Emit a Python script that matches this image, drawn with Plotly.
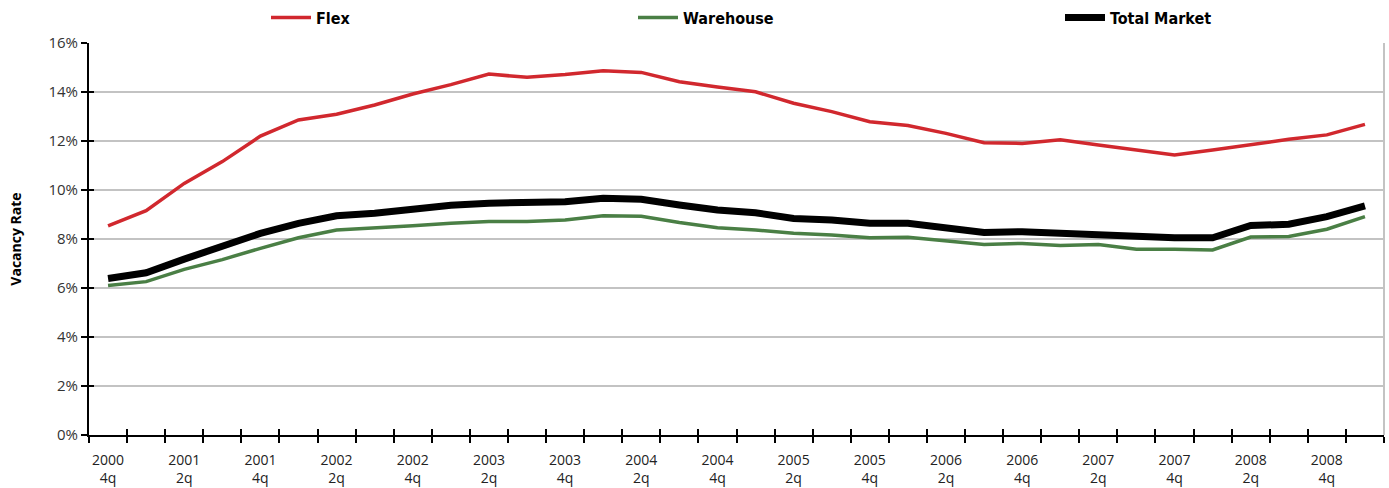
import plotly.graph_objects as go

quarters = [
    "2000 4q", "2001 1q", "2001 2q", "2001 3q", "2001 4q", "2002 1q", "2002 2q", "2002 3q",
    "2002 4q", "2003 1q", "2003 2q", "2003 3q", "2003 4q", "2004 1q", "2004 2q", "2004 3q",
    "2004 4q", "2005 1q", "2005 2q", "2005 3q", "2005 4q", "2006 1q", "2006 2q", "2006 3q",
    "2006 4q", "2007 1q", "2007 2q", "2007 3q", "2007 4q", "2008 1q", "2008 2q", "2008 3q",
    "2008 4q", "2009 1q",
]

flex = [8.54, 9.16, 10.27, 11.16, 12.2, 12.86, 13.09, 13.47, 13.92, 14.3, 14.73, 14.6,
        14.71, 14.87, 14.8, 14.42, 14.2, 14.01, 13.54, 13.2, 12.79, 12.63, 12.31, 11.93,
        11.9, 12.05, 11.84, 11.65, 11.43, 11.63, 11.86, 12.07, 12.25, 12.68]
warehouse = [6.1, 6.26, 6.76, 7.16, 7.62, 8.05, 8.37, 8.44, 8.54, 8.64, 8.71, 8.71,
             8.78, 8.95, 8.93, 8.67, 8.46, 8.37, 8.23, 8.16, 8.05, 8.07, 7.92, 7.78,
             7.82, 7.73, 7.78, 7.58, 7.58, 7.55, 8.08, 8.1, 8.4, 8.91]
total = [6.39, 6.62, 7.18, 7.69, 8.23, 8.64, 8.95, 9.05, 9.22, 9.38, 9.46, 9.46,
         9.52, 9.66, 9.62, 9.39, 9.18, 9.07, 8.84, 8.78, 8.64, 8.64, 8.46, 8.27,
         8.3, 8.23, 8.23, 8.1, 8.05, 8.05, 8.55, 8.6, 8.91, 9.35]

y_ticks = [0, 2, 4, 6, 8, 10, 12, 14, 16]

idx = list(range(len(quarters)))
label_idx = [i for i in idx if i % 2 == 0]
label_text = [quarters[i].replace(" ", "<br>") for i in label_idx]
boundaries = [i - 0.5 for i in idx] + [idx[-1] + 0.5]

RED = "#d1282e"
GREEN = "#4a7f45"
BLACK = "#000000"
FONT = "Open Sans, Noto Sans, sans-serif"
LEGFONT = "Liberation Sans Narrow, DejaVu Sans Condensed, Arial Narrow, sans-serif"

fig = go.Figure()
fig.add_trace(go.Scatter(x=idx, y=flex, mode="lines", name="<b>Flex</b>",
                         line=dict(color=RED, width=3.5), legend="legend"))
fig.add_trace(go.Scatter(x=idx, y=warehouse, mode="lines", name="<b>Warehouse</b>",
                         line=dict(color=GREEN, width=3.5), legend="legend2"))
fig.add_trace(go.Scatter(x=idx, y=total, mode="lines", name="<b>Total Market</b>",
                         line=dict(color=BLACK, width=7), legend="legend3"))

# invisible helper traces so the overlay axes (crossing ticks, labels) are drawn
for xa, ya in (("x2", "y"), ("x3", "y"), ("x", "y2")):
    fig.add_trace(go.Scatter(x=idx, y=total, mode="lines", xaxis=xa, yaxis=ya,
                             line=dict(width=0, color="rgba(0,0,0,0)"),
                             showlegend=False, hoverinfo="skip"))

xr = [-0.5, len(quarters) - 0.5]
yr = [0, 16]

leg_common = dict(orientation="h", yanchor="middle", y=1.065, xanchor="left",
                  bgcolor="rgba(0,0,0,0)", borderwidth=0,
                  font=dict(family=LEGFONT, size=16, color="#000000"),
                  itemwidth=40)

fig.update_layout(
    width=1389, height=488,
    margin=dict(l=89, r=5, t=43, b=53, autoexpand=False),
    paper_bgcolor="white", plot_bgcolor="white",
    showlegend=True,
    legend=dict(leg_common, x=(266 - 89) / 1295),
    legend2=dict(leg_common, x=(633 - 89) / 1295),
    legend3=dict(leg_common, x=(1060 - 89) / 1295),
    xaxis=dict(range=xr, tickmode="array", tickvals=boundaries,
               ticktext=[""] * len(boundaries), ticks="outside", ticklen=6,
               tickwidth=2, tickcolor="black", showgrid=False, zeroline=False,
               showline=True, linecolor="black", linewidth=2, automargin=False),
    xaxis2=dict(range=xr, overlaying="x", anchor="y", side="bottom",
                tickmode="array", tickvals=boundaries, ticktext=[""] * len(boundaries),
                ticks="inside", ticklen=6, tickwidth=2, tickcolor="black",
                showgrid=False, zeroline=False, showline=False, automargin=False),
    xaxis3=dict(range=xr, overlaying="x", anchor="y", side="bottom",
                tickmode="array", tickvals=label_idx, ticktext=label_text,
                ticks="", showgrid=False, zeroline=False, showline=False,
                ticklabelstandoff=15, automargin=False,
                tickfont=dict(family=FONT, size=14, color="#222222")),
    yaxis=dict(range=yr, tickmode="array", tickvals=y_ticks,
               ticktext=[f"{v}%" for v in y_ticks], ticks="outside", ticklen=6,
               tickwidth=2, tickcolor="black", showgrid=True, gridcolor="#c3c3c3",
               gridwidth=2, zeroline=False, showline=True, linecolor="black",
               linewidth=2, automargin=False,
               tickfont=dict(family=FONT, size=15, color="#333333"),
               title=dict(text="<b>Vacancy Rate</b>", standoff=24,
                          font=dict(family=FONT, size=14, color="#000000"))),
    yaxis2=dict(range=yr, overlaying="y", anchor="x", side="left",
                tickmode="array", tickvals=y_ticks, ticktext=[""] * len(y_ticks),
                ticks="inside", ticklen=5, tickwidth=2, tickcolor="black",
                showgrid=False, zeroline=False, showline=False, automargin=False),
    shapes=[dict(type="line", xref="paper", yref="paper", x0=1, x1=1, y0=0, y1=1,
                 line=dict(color="#c3c3c3", width=2))],
)

fig.write_html("out.html")
